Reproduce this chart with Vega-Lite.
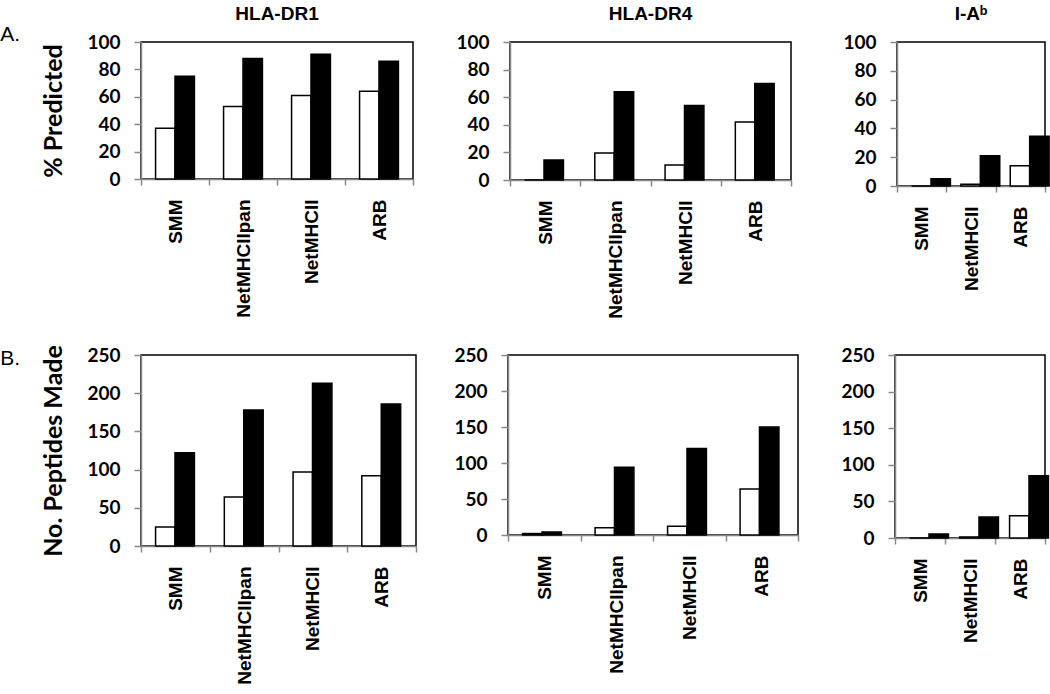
{
  "$schema": "https://vega.github.io/schema/vega-lite/v6.json",
  "padding": {"left": 0, "top": 4, "right": 0, "bottom": 0},
  "config": {
    "view": {"stroke": "black", "strokeWidth": 1.5},
    "axis": {
      "grid": false,
      "domainColor": "#888888",
      "domainWidth": 1.5,
      "tickColor": "#888888",
      "tickWidth": 1.5,
      "labelColor": "black"
    },
    "axisY": {
      "tickSize": 7,
      "labelPadding": 14,
      "labelFont": "Lato",
      "labelFontWeight": "bold",
      "labelFontSize": 19,
      "titleFont": "Lato",
      "titleFontWeight": "bold",
      "titleFontSize": 25,
      "titleColor": "black",
      "titlePadding": 20
    },
    "axisX": {
      "title": null,
      "tickSize": 6,
      "tickBand": "extent",
      "labelAngle": -90,
      "labelAlign": "right",
      "labelBaseline": "middle",
      "labelPadding": 14,
      "labelFont": "Liberation Sans",
      "labelFontWeight": "bold",
      "labelFontSize": 19
    },
    "title": {"font": "Liberation Sans", "fontSize": 19, "fontWeight": "bold", "color": "black", "offset": 9}
  },
  "datasets": {
    "d": [
      {"panel": "A1", "method": "SMM", "series": "Series 1", "value": 37},
      {"panel": "A1", "method": "SMM", "series": "Series 2", "value": 75},
      {"panel": "A1", "method": "NetMHCIIpan", "series": "Series 1", "value": 53},
      {"panel": "A1", "method": "NetMHCIIpan", "series": "Series 2", "value": 88},
      {"panel": "A1", "method": "NetMHCII", "series": "Series 1", "value": 61},
      {"panel": "A1", "method": "NetMHCII", "series": "Series 2", "value": 91},
      {"panel": "A1", "method": "ARB", "series": "Series 1", "value": 64},
      {"panel": "A1", "method": "ARB", "series": "Series 2", "value": 86},
      {"panel": "A2", "method": "SMM", "series": "Series 1", "value": 0},
      {"panel": "A2", "method": "SMM", "series": "Series 2", "value": 14.5},
      {"panel": "A2", "method": "NetMHCIIpan", "series": "Series 1", "value": 19.5},
      {"panel": "A2", "method": "NetMHCIIpan", "series": "Series 2", "value": 64},
      {"panel": "A2", "method": "NetMHCII", "series": "Series 1", "value": 10.8},
      {"panel": "A2", "method": "NetMHCII", "series": "Series 2", "value": 54},
      {"panel": "A2", "method": "ARB", "series": "Series 1", "value": 42},
      {"panel": "A2", "method": "ARB", "series": "Series 2", "value": 70},
      {"panel": "A3", "method": "SMM", "series": "Series 1", "value": 0},
      {"panel": "A3", "method": "SMM", "series": "Series 2", "value": 5},
      {"panel": "A3", "method": "NetMHCII", "series": "Series 1", "value": 1.2},
      {"panel": "A3", "method": "NetMHCII", "series": "Series 2", "value": 21},
      {"panel": "A3", "method": "ARB", "series": "Series 1", "value": 14},
      {"panel": "A3", "method": "ARB", "series": "Series 2", "value": 34.6},
      {"panel": "B1", "method": "SMM", "series": "Series 1", "value": 25},
      {"panel": "B1", "method": "SMM", "series": "Series 2", "value": 122},
      {"panel": "B1", "method": "NetMHCIIpan", "series": "Series 1", "value": 64},
      {"panel": "B1", "method": "NetMHCIIpan", "series": "Series 2", "value": 178},
      {"panel": "B1", "method": "NetMHCII", "series": "Series 1", "value": 97},
      {"panel": "B1", "method": "NetMHCII", "series": "Series 2", "value": 213},
      {"panel": "B1", "method": "ARB", "series": "Series 1", "value": 92},
      {"panel": "B1", "method": "ARB", "series": "Series 2", "value": 186},
      {"panel": "B2", "method": "SMM", "series": "Series 1", "value": 2},
      {"panel": "B2", "method": "SMM", "series": "Series 2", "value": 4},
      {"panel": "B2", "method": "NetMHCIIpan", "series": "Series 1", "value": 10},
      {"panel": "B2", "method": "NetMHCIIpan", "series": "Series 2", "value": 94},
      {"panel": "B2", "method": "NetMHCII", "series": "Series 1", "value": 12},
      {"panel": "B2", "method": "NetMHCII", "series": "Series 2", "value": 120},
      {"panel": "B2", "method": "ARB", "series": "Series 1", "value": 64},
      {"panel": "B2", "method": "ARB", "series": "Series 2", "value": 150},
      {"panel": "B3", "method": "SMM", "series": "Series 1", "value": 0},
      {"panel": "B3", "method": "SMM", "series": "Series 2", "value": 5.5},
      {"panel": "B3", "method": "NetMHCII", "series": "Series 1", "value": 1.4},
      {"panel": "B3", "method": "NetMHCII", "series": "Series 2", "value": 28.6},
      {"panel": "B3", "method": "ARB", "series": "Series 1", "value": 30.5},
      {"panel": "B3", "method": "ARB", "series": "Series 2", "value": 85}
    ]
  },
  "columns": 1,
  "spacing": 24,
  "concat": [
    {
      "title": {"text": "A.", "orient": "left", "anchor": "end", "angle": 0, "align": "left", "baseline": "top", "font": "Liberation Sans", "fontWeight": "normal", "fontSize": 21, "offset": 21, "dy": 20},
      "spacing": 10,
      "hconcat": [
        {
          "title": "HLA-DR1",
          "width": 272, "height": 137,
          "data": {"name": "d"},
          "transform": [{"filter": "datum.panel === 'A1'"}],
          "mark": {"type": "bar", "stroke": "black", "strokeWidth": 1.5},
          "encoding": {
            "x": {"field": "method", "type": "nominal", "sort": ["SMM", "NetMHCIIpan", "NetMHCII", "ARB"], "scale": {"paddingInner": 0, "paddingOuter": 0}},
            "xOffset": {"field": "series", "type": "nominal", "scale": {"paddingInner": 0, "paddingOuter": 0.75}},
            "y": {"field": "value", "type": "quantitative", "title": "% Predicted", "scale": {"domain": [0, 100]}, "axis": {"values": [0, 20, 40, 60, 80, 100]}},
            "color": {"field": "series", "type": "nominal", "scale": {"domain": ["Series 1", "Series 2"], "range": ["white", "black"]}, "legend": null}
          }
        },
        {
          "title": "HLA-DR4",
          "width": 281, "height": 138,
          "data": {"name": "d"},
          "transform": [{"filter": "datum.panel === 'A2'"}],
          "mark": {"type": "bar", "stroke": "black", "strokeWidth": 1.5},
          "encoding": {
            "x": {"field": "method", "type": "nominal", "sort": ["SMM", "NetMHCIIpan", "NetMHCII", "ARB"], "scale": {"paddingInner": 0, "paddingOuter": 0}},
            "xOffset": {"field": "series", "type": "nominal", "scale": {"paddingInner": 0, "paddingOuter": 0.75}},
            "y": {"field": "value", "type": "quantitative", "title": null, "scale": {"domain": [0, 100]}, "axis": {"values": [0, 20, 40, 60, 80, 100], "minExtent": 84}},
            "color": {"field": "series", "type": "nominal", "scale": {"domain": ["Series 1", "Series 2"], "range": ["white", "black"]}, "legend": null}
          }
        },
        {
          "title": "I-Aᵇ",
          "width": 148, "height": 144,
          "data": {"name": "d"},
          "transform": [{"filter": "datum.panel === 'A3'"}],
          "mark": {"type": "bar", "stroke": "black", "strokeWidth": 1.5},
          "encoding": {
            "x": {"field": "method", "type": "nominal", "sort": ["SMM", "NetMHCII", "ARB"], "scale": {"paddingInner": 0, "paddingOuter": 0}},
            "xOffset": {"field": "series", "type": "nominal", "scale": {"paddingInner": 0, "paddingOuter": 0.75}},
            "y": {"field": "value", "type": "quantitative", "title": null, "scale": {"domain": [0, 100]}, "axis": {"values": [0, 20, 40, 60, 80, 100], "minExtent": 93}},
            "color": {"field": "series", "type": "nominal", "scale": {"domain": ["Series 1", "Series 2"], "range": ["white", "black"]}, "legend": null}
          }
        }
      ]
    },
    {
      "title": {"text": "B.", "orient": "left", "anchor": "end", "angle": 0, "align": "left", "baseline": "top", "font": "Liberation Sans", "fontWeight": "normal", "fontSize": 21, "offset": 21, "dy": 4},
      "spacing": 10,
      "hconcat": [
        {
          "width": 275, "height": 191,
          "data": {"name": "d"},
          "transform": [{"filter": "datum.panel === 'B1'"}],
          "mark": {"type": "bar", "stroke": "black", "strokeWidth": 1.5},
          "encoding": {
            "x": {"field": "method", "type": "nominal", "sort": ["SMM", "NetMHCIIpan", "NetMHCII", "ARB"], "scale": {"paddingInner": 0, "paddingOuter": 0}},
            "xOffset": {"field": "series", "type": "nominal", "scale": {"paddingInner": 0, "paddingOuter": 0.75}},
            "y": {"field": "value", "type": "quantitative", "title": "No. Peptides Made", "scale": {"domain": [0, 250]}, "axis": {"values": [0, 50, 100, 150, 200, 250]}},
            "color": {"field": "series", "type": "nominal", "scale": {"domain": ["Series 1", "Series 2"], "range": ["white", "black"]}, "legend": null}
          }
        },
        {
          "width": 290, "height": 180,
          "data": {"name": "d"},
          "transform": [{"filter": "datum.panel === 'B2'"}],
          "mark": {"type": "bar", "stroke": "black", "strokeWidth": 1.5},
          "encoding": {
            "x": {"field": "method", "type": "nominal", "sort": ["SMM", "NetMHCIIpan", "NetMHCII", "ARB"], "scale": {"paddingInner": 0, "paddingOuter": 0}},
            "xOffset": {"field": "series", "type": "nominal", "scale": {"paddingInner": 0, "paddingOuter": 0.75}},
            "y": {"field": "value", "type": "quantitative", "title": null, "scale": {"domain": [0, 250]}, "axis": {"values": [0, 50, 100, 150, 200, 250], "minExtent": 79}},
            "color": {"field": "series", "type": "nominal", "scale": {"domain": ["Series 1", "Series 2"], "range": ["white", "black"]}, "legend": null}
          }
        },
        {
          "width": 150, "height": 183,
          "data": {"name": "d"},
          "transform": [{"filter": "datum.panel === 'B3'"}],
          "mark": {"type": "bar", "stroke": "black", "strokeWidth": 1.5},
          "encoding": {
            "x": {"field": "method", "type": "nominal", "sort": ["SMM", "NetMHCII", "ARB"], "scale": {"paddingInner": 0, "paddingOuter": 0}},
            "xOffset": {"field": "series", "type": "nominal", "scale": {"paddingInner": 0, "paddingOuter": 0.75}},
            "y": {"field": "value", "type": "quantitative", "title": null, "scale": {"domain": [0, 250]}, "axis": {"values": [0, 50, 100, 150, 200, 250], "minExtent": 84}},
            "color": {"field": "series", "type": "nominal", "scale": {"domain": ["Series 1", "Series 2"], "range": ["white", "black"]}, "legend": null}
          }
        }
      ]
    }
  ]
}
